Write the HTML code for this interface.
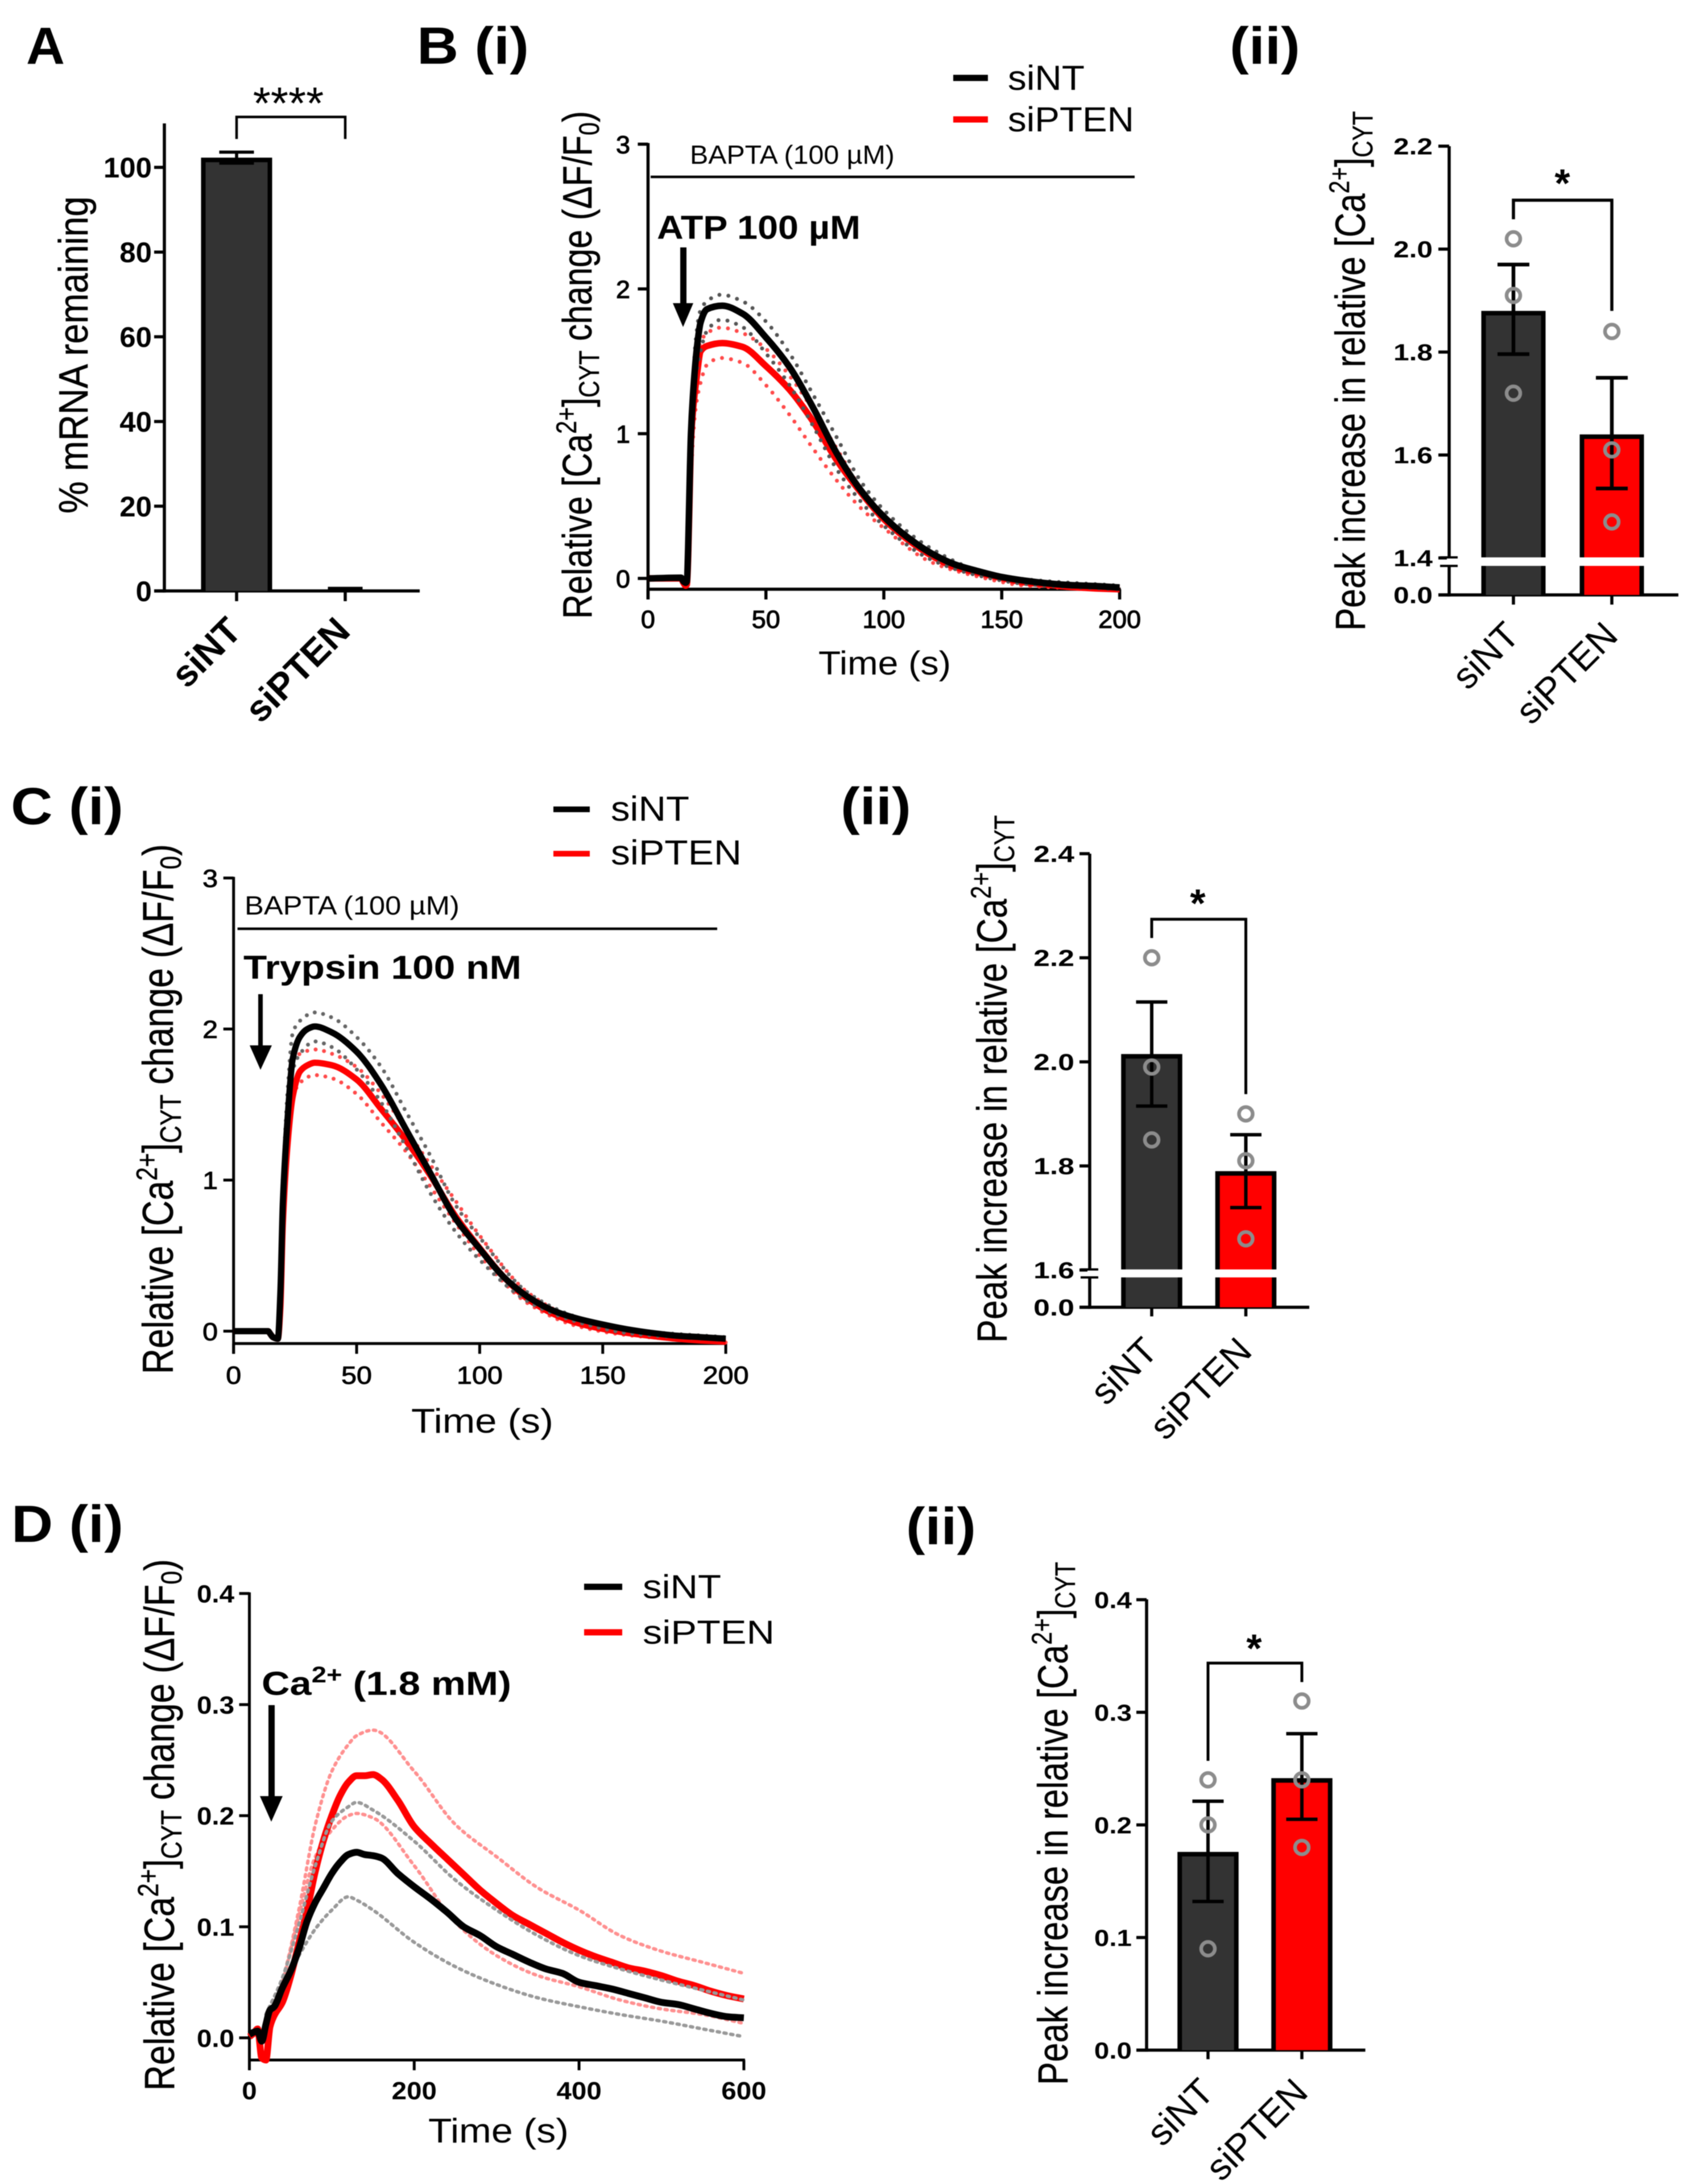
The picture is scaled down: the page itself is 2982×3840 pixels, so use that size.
<!DOCTYPE html>
<html lang="en">
<head>
<meta charset="utf-8">
<title>PTEN knockdown calcium response figure</title>
<style>
html,body{margin:0;padding:0;background:#fff;}
svg{display:block;filter:blur(0.9px);}
text{font-family:"Liberation Sans",Arial,sans-serif;fill:#000;}
.b{font-weight:bold;}
</style>
</head>
<body>
<svg id="figure" xmlns="http://www.w3.org/2000/svg" width="2982" height="3840" viewBox="0 0 2982 3840">
<rect x="0" y="0" width="2982" height="3840" fill="#fff"/>

<!-- panel labels -->
<text class="b" font-size="92" data-fit="46,112,0,68">A</text>
<text class="b" font-size="92" data-fit="733,112,0,197">B (i)</text>
<text class="b" font-size="92" data-fit="2162,112,0,124">(ii)</text>
<text class="b" font-size="92" data-fit="19,1449,0,198">C (i)</text>
<text class="b" font-size="92" data-fit="1478,1449,0,124">(ii)</text>
<text class="b" font-size="92" data-fit="20,2711,0,197">D (i)</text>
<text class="b" font-size="92" data-fit="1593,2715,0,123">(ii)</text>

<!-- panel A -->
<g id="chart-a">
<text font-size="72" stroke="#000" stroke-width="0.5" data-fit="154,903,-90,558">% mRNA remaining</text>
<text font-size="80" text-anchor="middle" x="507" y="209">****</text>
</g>

<!-- panel B(i) -->
<g id="chart-b1">
<text font-size="72" stroke="#000" stroke-width="0.5" data-fit="1040,1088,-90,893">Relative [Ca<tspan font-size="50" dy="-27">2+</tspan><tspan dy="27">]</tspan><tspan font-size="50" dy="13">CYT</tspan><tspan dy="-13"> change (ΔF/F</tspan><tspan font-size="50" dy="13">0</tspan><tspan dy="-13">)</tspan></text>
<text font-size="58" data-fit="1439,1186,0,233">Time (s)</text>
<text font-size="46" data-fit="1213,288,0,360">BAPTA (100 µM)</text>
<line x1="1144" y1="311" x2="1995" y2="311" stroke="#000" stroke-width="4.5"/>
<text class="b" font-size="58" data-fit="1155,420,0,358">ATP 100 µM</text>
<path d="M1196 435H1207V533H1219L1201 575L1183 533H1196Z" fill="#000"/>
<line x1="1676" y1="137" x2="1737" y2="137" stroke="#000" stroke-width="11"/>
<line x1="1676" y1="210" x2="1737" y2="210" stroke="#f00" stroke-width="11"/>
<text font-size="61" data-fit="1772,158,0,135">siNT</text>
<text font-size="61" data-fit="1772,231,0,222">siPTEN</text>
</g>

<!-- panel B(ii) -->
<g id="chart-b2">
<text font-size="74" stroke="#000" stroke-width="0.4" data-fit="2400,1109,-90,914">Peak increase in relative [Ca<tspan font-size="50" dy="-28">2+</tspan><tspan dy="28">]</tspan><tspan font-size="50" dy="13">CYT</tspan></text>
<text class="b" font-size="70" text-anchor="middle" x="2747" y="346">*</text>
</g>

<!-- panel C(i) -->
<g id="chart-c1">
<text font-size="76" stroke="#000" stroke-width="0.5" data-fit="304,2416,-90,932">Relative [Ca<tspan font-size="52" dy="-28">2+</tspan><tspan dy="28">]</tspan><tspan font-size="52" dy="14">CYT</tspan><tspan dy="-14"> change (ΔF/F</tspan><tspan font-size="52" dy="14">0</tspan><tspan dy="-14">)</tspan></text>
<text font-size="60" data-fit="723,2519,0,250">Time (s)</text>
<text font-size="46" data-fit="430,1608,0,378">BAPTA (100 µM)</text>
<line x1="417.6" y1="1633" x2="1261" y2="1633" stroke="#000" stroke-width="4.5"/>
<text class="b" font-size="58" data-fit="428,1721,0,489">Trypsin 100 nM</text>
<path d="M454 1748H462V1838H478L458 1881L439 1838H454Z" fill="#000"/>
<line x1="973" y1="1423" x2="1037" y2="1423" stroke="#000" stroke-width="10"/>
<line x1="973" y1="1501" x2="1037" y2="1501" stroke="#f00" stroke-width="10"/>
<text font-size="61" data-fit="1074,1443,0,138">siNT</text>
<text font-size="61" data-fit="1074,1520,0,230">siPTEN</text>
</g>

<!-- panel C(ii) -->
<g id="chart-c2">
<text font-size="74" stroke="#000" stroke-width="0.4" data-fit="1770,2361,-90,928">Peak increase in relative [Ca<tspan font-size="50" dy="-28">2+</tspan><tspan dy="28">]</tspan><tspan font-size="50" dy="13">CYT</tspan></text>
<text class="b" font-size="70" text-anchor="middle" x="2106" y="1612">*</text>
</g>

<!-- panel D(i) -->
<g id="chart-d1">
<text font-size="74" stroke="#000" stroke-width="0.5" data-fit="306,3676,-90,935">Relative [Ca<tspan font-size="51" dy="-28">2+</tspan><tspan dy="28">]</tspan><tspan font-size="51" dy="13">CYT</tspan><tspan dy="-13"> change (ΔF/F</tspan><tspan font-size="51" dy="13">0</tspan><tspan dy="-13">)</tspan></text>
<text font-size="60" data-fit="753,3767,0,247">Time (s)</text>
<text class="b" font-size="58" data-fit="460,2980,0,439">Ca<tspan font-size="40" dy="-22">2+</tspan><tspan dy="22"> (1.8 mM)</tspan></text>
<path d="M472 2998H483V3158H497L477 3203L457 3158H472Z" fill="#000"/>
<line x1="1027" y1="2790" x2="1094" y2="2790" stroke="#000" stroke-width="11"/>
<line x1="1027" y1="2870" x2="1094" y2="2870" stroke="#f00" stroke-width="11"/>
<text font-size="58" data-fit="1130,2810,0,138">siNT</text>
<text font-size="58" data-fit="1130,2890,0,232">siPTEN</text>
</g>

<!-- panel D(ii) -->
<g id="chart-d2">
<text font-size="74" stroke="#000" stroke-width="0.4" data-fit="1877,3666,-90,920">Peak increase in relative [Ca<tspan font-size="50" dy="-28">2+</tspan><tspan dy="28">]</tspan><tspan font-size="50" dy="13">CYT</tspan></text>
<text class="b" font-size="70" text-anchor="middle" x="2205" y="2922">*</text>
</g>
</svg>

<script>
/* ---------- shared data ---------- */
const categories = ['siNT', 'siPTEN'];

/* panel A */
const aTicks = [0, 20, 40, 60, 80, 100];
const aMeans = [102.3, 0.3];
const aUpper = [103.6, 0.6];
const aLower = [101, 0.1];

/* panel B(i) */
const b1XTicks = [0, 50, 100, 150, 200];
const b1YTicks = [0, 1, 2, 3];
const b1Time = [0,14,15,16,16.5,17,17.8,18.2,19,20.7,22.3,25,31.5,40,50,60,70,80,90,100,110,120,130,140,150,160,170,180,190,200];
const b1SiNT = [0,.005,-.02,-.03,-.02,.2,.77,1.0,1.25,1.587,1.77,1.86,1.884,1.83,1.665,1.46,1.18,.865,.614,.426,.285,.175,.097,.05,.01,-.016,-.035,-.047,-.053,-.063];
const b1SiPTEN = [0,0,-.03,-.05,-.04,.15,.7,.95,1.15,1.4,1.57,1.606,1.626,1.6,1.467,1.304,1.085,.818,.6,.41,.27,.16,.08,.04,.003,-.028,-.044,-.06,-.069,-.075];
const b1BandTime = [18,19,20,22,25,31,40,50,60,70,80,90,100,120,140,160,200];
const b1SiNTUpper = [.9,1.3,1.6,1.84,1.915,1.96,1.915,1.775,1.555,1.27,.975,.677,.473,.207,.056,-.006,-.05];
const b1SiNTLower = [.7,1.1,1.35,1.55,1.71,1.787,1.737,1.555,1.335,1.053,.755,.536,.364,.13,.02,-.038,-.075];
const b1SiPTENUpper = [.8,1.2,1.45,1.62,1.695,1.733,1.695,1.586,1.4,1.163,.897,.63,.44,.175,.035,-.028,-.07];
const b1SiPTENLower = [.6,.95,1.15,1.335,1.476,1.523,1.49,1.335,1.13,.897,.677,.49,.348,.113,.0125,-.05,-.08];

/* panel B(ii) */
const b2Ticks = [0, 1.4, 1.6, 1.8, 2.0, 2.2];
const b2Means = [1.88, 1.64];
const b2Upper = [1.97, 1.75];
const b2Lower = [1.796, 1.535];
const b2PointsSiNT = [2.02, 1.91, 1.72];
const b2PointsSiPTEN = [1.84, 1.61, 1.47];

/* panel C(i) */
const c1XTicks = [0, 50, 100, 150, 200];
const c1YTicks = [0, 1, 2, 3];
const c1Time = [0,14,15,16,18,19,20,22,24,27,30,33,40,50,60,70,80,90,100,110,120,130,140,150,160,170,180,190,200];
const c1SiNT = [0,0,-.02,-.04,-.05,.25,.84,1.42,1.8,1.95,2.0,2.017,1.977,1.85,1.63,1.337,1.044,.75,.545,.355,.223,.135,.082,.044,.012,-.012,-.03,-.04,-.05];
const c1SiPTEN = [0,0,-.02,-.04,-.05,.15,.7,1.25,1.55,1.72,1.76,1.777,1.76,1.666,1.47,1.264,1.03,.765,.55,.355,.208,.114,.053,.015,-.012,-.032,-.05,-.062,-.07];
const c1BandTime = [20,22,24,27,33,40,50,60,70,80,90,100,120,140,160,200];
const c1SiNTUpper = [1.0,1.6,1.97,2.055,2.11,2.076,1.947,1.748,1.455,1.16,.84,.62,.25,.09,.01,-.04];
const c1SiNTLower = [.8,1.35,1.72,1.836,1.918,1.88,1.733,1.513,1.22,.912,.663,.472,.193,.06,-.012,-.06];
const c1SiPTENUpper = [.9,1.45,1.8,1.836,1.865,1.836,1.748,1.57,1.337,1.1,.868,.633,.25,.076,0,-.06];
const c1SiPTENLower = [.6,1.2,1.54,1.645,1.695,1.674,1.57,1.38,1.19,.956,.72,.5,.18,.032,-.026,-.075];

/* panel C(ii) */
const c2Ticks = [0, 1.6, 1.8, 2.0, 2.2, 2.4];
const c2Means = [2.015, 1.79];
const c2Upper = [2.115, 1.86];
const c2Lower = [1.915, 1.72];
const c2PointsSiNT = [2.2, 1.99, 1.85];
const c2PointsSiPTEN = [1.9, 1.81, 1.66];

/* panel D(i) */
const d1XTicks = [0, 200, 400, 600];
const d1YTicks = [0, 0.1, 0.2, 0.3, 0.4];
const d1Time = [0,5,10,15,20,25,30,40,50,60,70,80,90,100,110,120,130,140,150,160,180,200,220,240,260,280,300,320,340,360,380,400,420,440,460,480,500,520,540,560,580,600];
const d1SiNT = [.003,.005,.006,-.003,.012,.025,.028,.045,.06,.08,.105,.122,.135,.148,.158,.165,.167,.165,.164,.162,.148,.136,.125,.113,.1,.092,.082,.075,.068,.062,.058,.05,.047,.044,.04,.036,.032,.03,.026,.022,.019,.018];
const d1SiPTEN = [.001,.004,.008,-.018,-.02,.01,.02,.032,.055,.085,.115,.15,.178,.2,.218,.23,.236,.236,.237,.233,.214,.19,.175,.161,.147,.133,.121,.11,.102,.094,.086,.079,.073,.068,.063,.06,.056,.051,.047,.042,.038,.035];
const d1BandTime = [20,40,60,80,100,120,130,150,200,250,300,350,400,450,500,550,600];
const d1SiNTUpper = [.021,.054,.102,.155,.195,.208,.212,.205,.177,.142,.115,.092,.074,.062,.052,.043,.034];
const d1SiNTLower = [.013,.046,.074,.098,.115,.127,.124,.115,.086,.064,.048,.036,.028,.021,.015,.008,.001];
const d1SiPTENUpper = [.015,.052,.115,.192,.24,.264,.272,.277,.24,.192,.163,.135,.115,.092,.078,.068,.058];
const d1SiPTENLower = [.01,.05,.11,.163,.187,.2,.202,.198,.155,.104,.074,.056,.046,.034,.026,.021,.013];

/* panel D(ii) */
const d2Ticks = [0, 0.1, 0.2, 0.3, 0.4];
const d2Means = [0.176, 0.2415];
const d2Upper = [0.221, 0.281];
const d2Lower = [0.132, 0.205];
const d2PointsSiNT = [0.24, 0.2, 0.09];
const d2PointsSiPTEN = [0.31, 0.24, 0.18];

/* ---------- helpers ---------- */
const NS = 'http://www.w3.org/2000/svg';

function mark(parent, tag, attrs, name) {
  const el = document.createElementNS(NS, tag);
  for (const k in attrs) el.setAttribute(k, attrs[k]);
  
  
  parent.appendChild(el);
  return el;
}

function line(parent, x1, y1, x2, y2, w, name, color) {
  return mark(parent, 'line', {x1: x1, y1: y1, x2: x2, y2: y2, stroke: color || '#000', 'stroke-width': w}, name);
}

function label(parent, x, y, str, size, o, name) {
  const el = document.createElementNS(NS, 'text');
  el.textContent = str;
  el.setAttribute('font-size', size);
  el.setAttribute('text-anchor', o.anchor || 'middle');
  el.setAttribute('transform', 'translate(' + x + ',' + y + ') rotate(' + (o.rot || 0) + ') scale(' + (o.sx || 1) + ',1)');
  if (o.bold) el.setAttribute('font-weight', 'bold');
  if (o.heavy) { el.setAttribute('stroke', '#000'); el.setAttribute('stroke-width', o.heavy); }
  
  
  parent.appendChild(el);
  return el;
}

/* monotone cubic path through the data points, so curves stay round without overshooting */
function pathFrom(xs, ys, xf, yf) {
  const px = xs.map(xf);
  const py = ys.map(yf);
  const n = px.length;
  const s = [];
  for (let i = 0; i < n - 1; i++) s.push((py[i + 1] - py[i]) / (px[i + 1] - px[i]));
  const m = [s[0]];
  for (let i = 1; i < n - 1; i++) {
    if (s[i - 1] * s[i] <= 0) {
      m.push(0);
    } else {
      const h0 = px[i] - px[i - 1];
      const h1 = px[i + 1] - px[i];
      m.push(3 * (h0 + h1) / ((2 * h1 + h0) / s[i - 1] + (h1 + 2 * h0) / s[i]));
    }
  }
  m.push(s[n - 2]);
  let d = 'M' + px[0].toFixed(1) + ' ' + py[0].toFixed(1);
  for (let i = 0; i < n - 1; i++) {
    const h = (px[i + 1] - px[i]) / 3;
    d += 'C' + (px[i] + h).toFixed(1) + ' ' + (py[i] + m[i] * h).toFixed(1) + ' ' +
         (px[i + 1] - h).toFixed(1) + ' ' + (py[i + 1] - m[i + 1] * h).toFixed(1) + ' ' +
         px[i + 1].toFixed(1) + ' ' + py[i + 1].toFixed(1);
  }
  return d;
}

/* ---------- trace charts ---------- */
function traceChart(c) {
  const g = document.getElementById(c.id);
  const top = c.y(c.yTicks[c.yTicks.length - 1]);
  line(g, c.x(0), top - 2, c.x(0), c.axisY + c.tick, c.axisW, 'y-axis');
  line(g, c.x(0) - 2, c.axisY, c.x(c.xTicks[c.xTicks.length - 1]) + 2, c.axisY, c.axisW, 'x-axis');
  c.yTicks.forEach(function (v) {
    line(g, c.x(0) - c.tick, c.y(v), c.x(0), c.y(v), c.axisW, 'y-tick');
    label(g, c.yLabelRight, c.y(v) + c.tickSize * 0.358, c.yFmt(v), c.tickSize, {anchor: 'end', bold: c.bold, heavy: c.heavy, sx: c.tickSx}, 'y-tick-label');
  });
  c.xTicks.forEach(function (t) {
    line(g, c.x(t), c.axisY, c.x(t), c.axisY + c.tick, c.axisW, 'x-tick');
    label(g, c.x(t), c.xLabelY, String(t), c.tickSize, {bold: c.bold, heavy: c.heavy, sx: c.tickSx}, 'x-tick-label');
  });
  function band(ys, color, name) {
    mark(g, 'path', {d: pathFrom(c.bandTime, ys, c.x, c.y), fill: 'none', stroke: color, 'stroke-width': c.dotW, 'stroke-dasharray': c.dash, 'stroke-linecap': 'round'}, name);
  }
  function mean(ys, color, name) {
    mark(g, 'path', {d: pathFrom(c.time, ys, c.x, c.y), fill: 'none', stroke: color, 'stroke-width': c.lineW, 'stroke-linejoin': 'round'}, name);
  }
  band(c.redUp, c.pink, 'sipten-sem-upper');
  band(c.redLo, c.pink, 'sipten-sem-lower');
  mean(c.red, '#f00', 'sipten-mean-line');
  band(c.greyUp, c.grey, 'sint-sem-upper');
  band(c.greyLo, c.grey, 'sint-sem-lower');
  mean(c.black, '#000', 'sint-mean-line');
}

traceChart({
  id: 'chart-b1', x: function (t) { return 1139.4 + t * 4.146; }, y: function (v) { return 1017 - v * 254.5; },
  axisY: 1036, tick: 18, axisW: 5.5, xTicks: b1XTicks, yTicks: b1YTicks, yFmt: String,
  yLabelRight: 1108, xLabelY: 1104, tickSize: 44, tickSx: 1.02, heavy: 1.2,
  time: b1Time, black: b1SiNT, red: b1SiPTEN, bandTime: b1BandTime,
  greyUp: b1SiNTUpper, greyLo: b1SiNTLower, redUp: b1SiPTENUpper, redLo: b1SiPTENLower,
  lineW: 11.5, dotW: 7, dash: '0 16', grey: '#555', pink: '#ff4a4a'
});
traceChart({
  id: 'chart-c1', x: function (t) { return 410.7 + t * 4.327; }, y: function (v) { return 2340.5 - v * 265.6; },
  axisY: 2362.3, tick: 18, axisW: 5, xTicks: c1XTicks, yTicks: c1YTicks, yFmt: String,
  yLabelRight: 383, xLabelY: 2433, tickSize: 44, tickSx: 1.1, heavy: 1,
  time: c1Time, black: c1SiNT, red: c1SiPTEN, bandTime: c1BandTime,
  greyUp: c1SiNTUpper, greyLo: c1SiNTLower, redUp: c1SiPTENUpper, redLo: c1SiPTENLower,
  lineW: 11, dotW: 7, dash: '0 15', grey: '#666', pink: '#ff4a4a'
});
traceChart({
  id: 'chart-d1', x: function (t) { return 438.5 + t * 1.449; }, y: function (v) { return 3583 - v * 1953; },
  axisY: 3622, tick: 18, axisW: 5, xTicks: d1XTicks, yTicks: d1YTicks, yFmt: function (v) { return v.toFixed(1); },
  yLabelRight: 412, xLabelY: 3691, tickSize: 44, tickSx: 1.08, bold: true,
  time: d1Time, black: d1SiNT, red: d1SiPTEN, bandTime: d1BandTime,
  greyUp: d1SiNTUpper, greyLo: d1SiNTLower, redUp: d1SiPTENUpper, redLo: d1SiPTENLower,
  lineW: 12, dotW: 6, dash: '4 8', grey: '#999', pink: '#ff9090'
});

/* ---------- bar charts ---------- */
function barChart(c) {
  const g = document.getElementById(c.id);
  const base = c.y(0);
  const fills = ['#333333', '#ff0000'];
  line(g, c.axisX, c.axisTop, c.axisX, base + c.axisW / 2, c.axisW, 'y-axis');
  line(g, c.axisX - c.tick, base, c.axisEnd, base, c.axisW, 'x-axis');
  c.ticks.forEach(function (v) {
    line(g, c.axisX - c.tick, c.y(v), c.axisX, c.y(v), c.axisW, 'y-tick');
    label(g, c.labelRight, c.y(v) + c.tickSize * 0.358, c.fmt(v), c.tickSize, {anchor: 'end', bold: true, sx: c.tickSx}, 'y-tick-label');
  });
  categories.forEach(function (cat, i) {
    const cx = c.band(i);
    const top = c.y(c.means[i]);
    const inset = c.border;
    line(g, cx, base, cx, base + c.catTick, c.axisW, 'x-tick');
    mark(g, 'rect', {x: cx - c.barW / 2, y: top, width: c.barW, height: Math.max(0, base - top), fill: '#000'}, 'bar-' + cat.toLowerCase());
    mark(g, 'rect', {x: cx - c.barW / 2 + inset, y: top + inset, width: c.barW - 2 * inset, height: Math.max(0, base - top - inset), fill: fills[i]}, 'bar-fill-' + cat.toLowerCase());
    label(g, cx + c.catDx, c.catY, cat, c.catSize, {anchor: 'end', rot: -45, bold: c.catBold}, 'category-label-' + cat.toLowerCase());
  });
  if (c.gap) {
    mark(g, 'rect', {x: c.band(0) - c.barW / 2 - 3, y: c.gap[0], width: c.barW + 6, height: c.gap[1] - c.gap[0], fill: '#fff'}, 'bar-break-gap');
    mark(g, 'rect', {x: c.band(1) - c.barW / 2 - 3, y: c.gap[0], width: c.barW + 6, height: c.gap[1] - c.gap[0], fill: '#fff'}, 'bar-break-gap');
    mark(g, 'rect', {x: c.axisX - 4, y: c.gap[0], width: 8, height: c.gap[1] - c.gap[0], fill: '#fff'}, 'axis-break-gap');
    line(g, c.axisX - 16, c.gap[0], c.axisX + 15, c.gap[0], 4, 'axis-break-mark');
    line(g, c.axisX - 16, c.gap[1], c.axisX + 15, c.gap[1], 4, 'axis-break-mark');
  }
  categories.forEach(function (cat, i) {
    const cx = c.band(i);
    line(g, cx, c.y(c.upper[i]), cx, c.y(c.lower[i]), c.errW, 'error-stem-' + cat.toLowerCase());
    line(g, cx - c.capW / 2, c.y(c.upper[i]), cx + c.capW / 2, c.y(c.upper[i]), c.errW, 'error-cap-upper-' + cat.toLowerCase());
    line(g, cx - c.capW / 2, c.y(c.lower[i]), cx + c.capW / 2, c.y(c.lower[i]), c.errW, 'error-cap-lower-' + cat.toLowerCase());
    (c.points ? c.points[i] : []).forEach(function (v) {
      mark(g, 'circle', {cx: cx, cy: c.y(v), r: 12, fill: 'none', stroke: '#8c8c8c', 'stroke-width': 6.5}, 'data-point-' + cat.toLowerCase());
    });
  });
  const bracket = 'M' + c.band(0) + ' ' + c.y(c.dropL) + 'V' + c.y(c.level) + 'H' + c.band(1) + 'V' + c.y(c.dropR);
  mark(g, 'path', {d: bracket, fill: 'none', stroke: '#000', 'stroke-width': c.errW - 1}, 'significance-bracket');
}

barChart({
  id: 'chart-a', y: function (v) { return 1039 - v * 7.447; }, band: function (i) { return 416 + i * 191; },
  axisX: 289, axisTop: 217, axisEnd: 738, axisW: 5.5, tick: 18, catTick: 18, ticks: aTicks, fmt: String,
  labelRight: 267, tickSize: 50, tickSx: 1.02, barW: 125, border: 8,
  means: aMeans, upper: aUpper, lower: aLower, capW: 61, errW: 5.5,
  catSize: 65, catBold: true, catDx: 12, catY: 1113, level: 111.9, dropL: 106.7, dropR: 106.7
});
barChart({
  id: 'chart-b2', y: function (v) { return v === 0 ? 1046 : 800 - (v - 1.6) * 905; }, band: function (i) { return 2661 + i * 173; },
  axisX: 2548, axisTop: 257, axisEnd: 2951, axisW: 5.5, tick: 19, catTick: 17, ticks: b2Ticks, fmt: function (v) { return v.toFixed(1); },
  labelRight: 2519, tickSize: 41, tickSx: 1.21, barW: 113, border: 8, gap: [980, 995],
  means: b2Means, upper: b2Upper, lower: b2Lower, points: [b2PointsSiNT, b2PointsSiPTEN], capW: 56, errW: 6.5,
  catSize: 65, catDx: 14, catY: 1121, level: 2.095, dropL: 2.058, dropR: 1.88
});
barChart({
  id: 'chart-c2', y: function (v) { return v === 0 ? 2298.5 : 2233 - (v - 1.6) * 915; }, band: function (i) { return 2025 + i * 165.5; },
  axisX: 1916, axisTop: 1501, axisEnd: 2302, axisW: 5.5, tick: 18, catTick: 16, ticks: c2Ticks, fmt: function (v) { return v.toFixed(1); },
  labelRight: 1889, tickSize: 41, tickSx: 1.26, barW: 107.5, border: 8, gap: [2232, 2246],
  means: c2Means, upper: c2Upper, lower: c2Lower, points: [c2PointsSiNT, c2PointsSiPTEN], capW: 55, errW: 6,
  catSize: 65, catDx: 14, catY: 2379, level: 2.274, dropL: 2.238, dropR: 1.938
});
barChart({
  id: 'chart-d2', y: function (v) { return 3604.6 - v * 1980; }, band: function (i) { return 2124 + i * 165; },
  axisX: 2016, axisTop: 2812, axisEnd: 2400.6, axisW: 5.5, tick: 18, catTick: 16, ticks: d2Ticks, fmt: function (v) { return v.toFixed(1); },
  labelRight: 1990, tickSize: 41, tickSx: 1.16, barW: 107.5, border: 8,
  means: d2Means, upper: d2Upper, lower: d2Lower, points: [d2PointsSiNT, d2PointsSiPTEN], capW: 55, errW: 6,
  catSize: 65, catDx: 14, catY: 3682, level: 0.3437, dropL: 0.2569, dropR: 0.3268
});

/* ---------- fit inline text to its measured length ---------- */
document.querySelectorAll('text[data-fit]').forEach(function (t) {
  const f = t.getAttribute('data-fit').split(',').map(Number);
  const natural = t.getComputedTextLength() || f[3];
  t.setAttribute('transform', 'translate(' + f[0] + ',' + f[1] + ') rotate(' + f[2] + ') scale(' + (f[3] / natural).toFixed(4) + ',1)');
});
</script>
</body>
</html>
